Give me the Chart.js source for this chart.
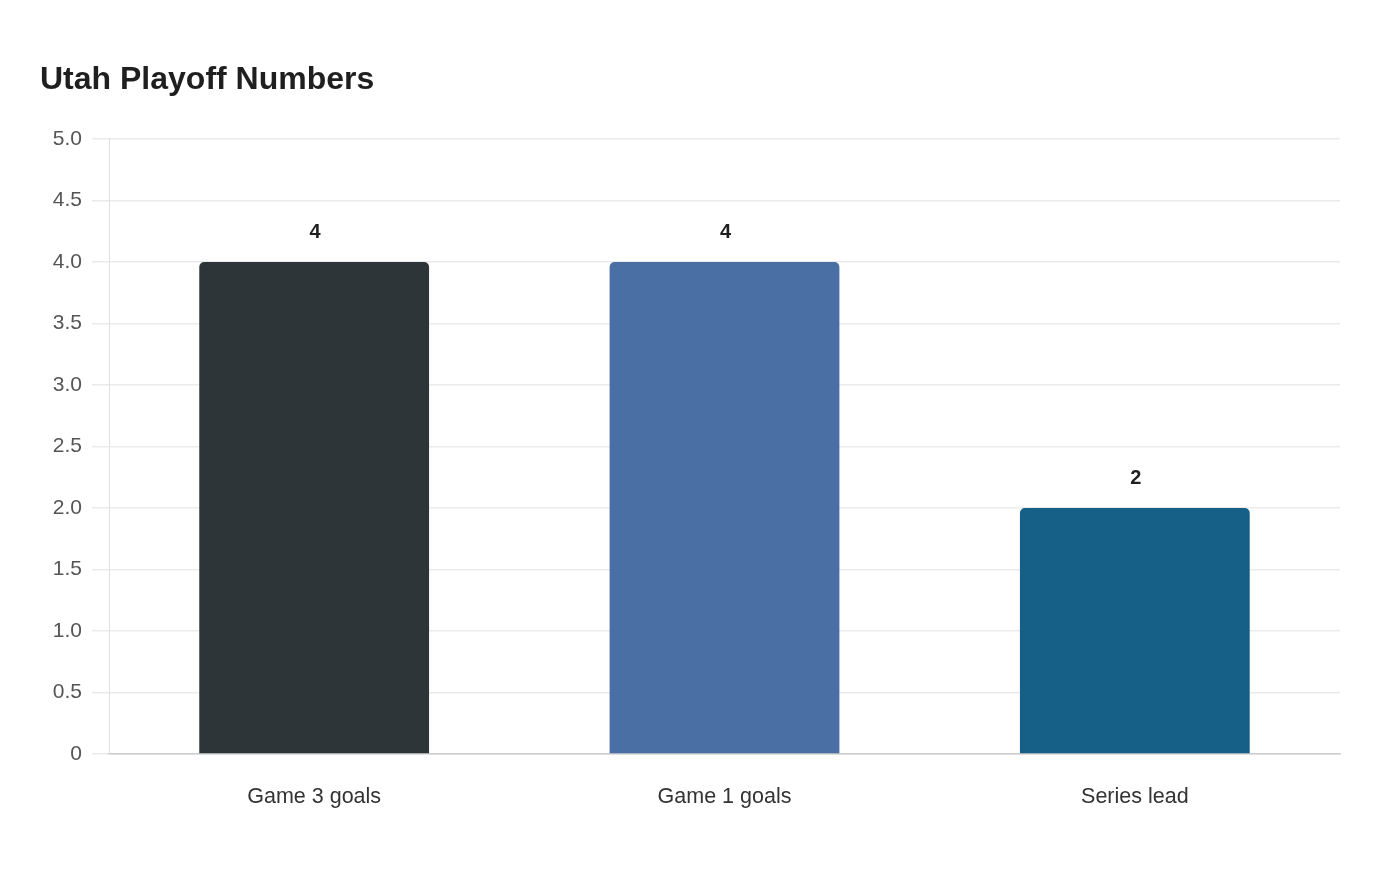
<!DOCTYPE html>
<html><head><meta charset="utf-8">
<script src="https://cdn.jsdelivr.net/npm/chart.js@4/dist/chart.umd.min.js"></script>
<style>html,body{margin:0;padding:0;background:#fff}#wrap{width:1400px;height:880px}</style>
</head><body><div id="wrap"><canvas id="c" width="1400" height="880"></canvas></div>
<script>
const titleText = 'Utah Playoff Numbers';
const categories = ['Game 3 goals', 'Game 1 goals', 'Series lead'];
const values = [4, 4, 2];
const barColors = ['#2e3538', '#4a6fa5', '#166088'];
const yTicks = [0, 0.5, 1, 1.5, 2, 2.5, 3, 3.5, 4, 4.5, 5];

const valueLabels = {
  id: 'valueLabels',
  afterDatasetsDraw(chart) {
    const ctx = chart.ctx;
    const meta = chart.getDatasetMeta(0);
    ctx.save();
    ctx.font = 'bold 20px "Liberation Sans", Arial, sans-serif';
    ctx.fillStyle = '#1f1f1f';
    ctx.textAlign = 'center';
    ctx.textBaseline = 'middle';
    meta.data.forEach((bar, i) => {
      ctx.fillText(String(values[i]), bar.x + 1, bar.y - 29);
    });
    ctx.restore();
  }
};

new Chart(document.getElementById('c'), {
  type: 'bar',
  data: {
    labels: categories,
    datasets: [{
      data: values,
      backgroundColor: barColors,
      borderRadius: {topLeft: 5, topRight: 5, bottomLeft: 0, bottomRight: 0},
      borderSkipped: 'bottom',
      barPercentage: 0.56,
      categoryPercentage: 1
    }]
  },
  options: {
    responsive: false,
    animation: false,
    layout: {padding: {top: 61, left: 40, right: 60, bottom: 0}},
    plugins: {
      legend: {display: false},
      tooltip: {enabled: false},
      title: {
        display: true, text: titleText, align: 'start', color: '#1f1f1f',
        font: {family: '"Liberation Sans", Arial, sans-serif', size: 32, weight: 'bold'},
        padding: {top: 0, bottom: 39.5}
      }
    },
    scales: {
      x: {
        grid: {display: false, drawTicks: false},
        border: {display: true, color: '#cccccc', width: 1.5},
        ticks: {color: '#333', padding: 30, font: {family: '"Liberation Sans", Arial, sans-serif', size: 21.5}},
        afterFit(s) { s.height = 126; }
      },
      y: {
        min: 0, max: 5,
        afterBuildTicks(s) { s.ticks = yTicks.map(v => ({value: v})); },
        grid: {color: '#ebebeb', lineWidth: 1.5, tickLength: 17},
        border: {display: true, color: '#e0e0e0'},
        ticks: {
          color: '#555', padding: 10,
          font: {family: '"Liberation Sans", Arial, sans-serif', size: 21},
          callback: v => v === 0 ? '0' : v.toFixed(1)
        },
        afterFit(s) { s.width = 69; }
      }
    }
  },
  plugins: [valueLabels]
});
</script>
</body></html>
